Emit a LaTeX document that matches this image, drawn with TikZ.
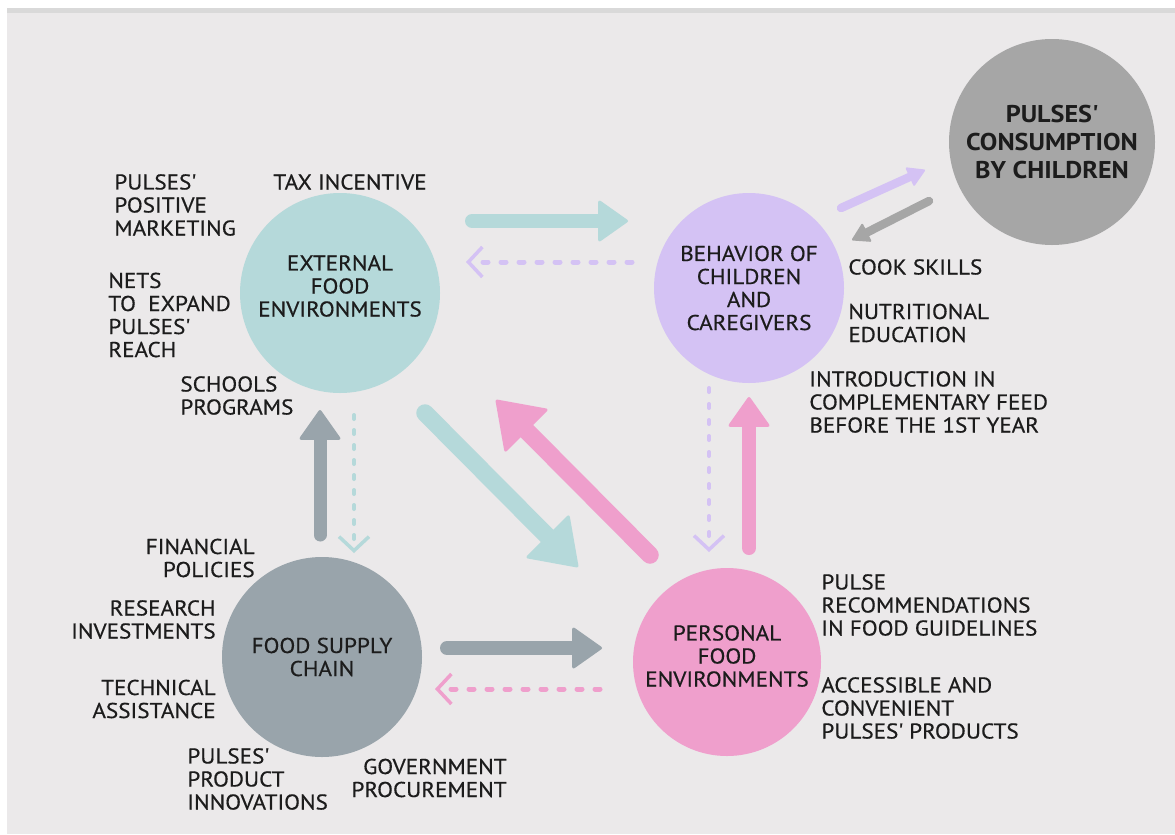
\documentclass[tikz,border=0pt]{standalone}
\usepackage{fontspec}
\setmainfont{PT Sans}[FakeStretch=1.08,UprightFeatures={FakeBold=0.5}]
\usepackage{xcolor}
\usepackage{tikz}
\usetikzlibrary{arrows.meta}
\definecolor{bg}{HTML}{EBE9EA}
\definecolor{band}{HTML}{D9D9D9}
\definecolor{cteal}{HTML}{B5D9DA}
\definecolor{clav}{HTML}{D4C2F4}
\definecolor{cpink}{HTML}{EF9FCC}
\definecolor{cslate}{HTML}{99A4AB}
\definecolor{cgrey}{HTML}{A6A6A6}
\definecolor{ink}{HTML}{1C1C1C}

\begin{document}
\begin{tikzpicture}
\tikzstyle{io}=[font=\fontsize{12.2}{13.1}\selectfont,text=ink,inner sep=0pt];
\tikzstyle{lio}=[io,anchor=west,align=left];
\tikzstyle{rio}=[io,anchor=east,align=right];
\tikzstyle{env}=[io,circle,align=center];
\tikzstyle{mid}=[io,align=center];
\tikzstyle{fat}=[line width=0.28cm,line cap=round,-{Triangle[width=0.86cm,length=0.62cm,round,line width=0.06cm]}];
\tikzstyle{fatter}=[line width=0.35cm,line cap=round,-{Triangle[width=1.24cm,length=0.9cm,round,line width=0.06cm]}];
\tikzstyle{slim}=[line width=0.17cm,line cap=round,-{Triangle[width=0.42cm,length=0.36cm,round,line width=0.04cm]}];
\tikzstyle{dots}=[line width=0.1cm,line cap=round,dash pattern=on 0.1cm off 0.26cm,-{Straight Barb[length=0.28cm,width=0.6cm,line width=0.07cm]}];

% background
\fill[white] (0,0) rectangle (23.5,-16.68);
\fill[band] (0.14,-0.16) rectangle (23.5,-0.26);
\fill[bg] (0.14,-0.26) rectangle (23.5,-16.68);

% circles
\node[env,fill=cteal,minimum size=4cm,label={[mid,yshift=0.14cm]center:{EXTERNAL\\FOOD\\ENVIRONMENTS}}] (ext) at (6.8,-5.86) {};
\node[env,fill=clav,minimum size=3.8cm] (beh) at (14.98,-5.76) {BEHAVIOR OF\\CHILDREN\\AND\\CAREGIVERS};
\node[env,fill=cgrey,minimum size=4.12cm,font=\fontsize{13.8}{16.1}\selectfont\bfseries] (cons) at (21.04,-2.84) {PULSES\textquotesingle\\CONSUMPTION\\BY CHILDREN};
\node[env,fill=cslate,minimum size=4cm] (sup) at (6.44,-13.14) {FOOD SUPPLY\\CHAIN};
\node[env,fill=cpink,minimum size=3.76cm,label={[mid,yshift=0.12cm]center:{PERSONAL\\FOOD\\ENVIRONMENTS}}] (per) at (14.54,-13.24) {};

% arrow ends
\coordinate (eb1) at (9.44,-4.42);
\coordinate (eb2) at (12.56,-4.42);
\coordinate (be1) at (12.64,-5.24);
\coordinate (be2) at (9.32,-5.24);
\coordinate (es1) at (7.08,-8.3);
\coordinate (es2) at (7.08,-11.06);
\coordinate (se1) at (6.4,-10.7);
\coordinate (se2) at (6.4,-8.2);
\coordinate (ep1) at (8.5,-8.26);
\coordinate (ep2) at (11.56,-11.34);
\coordinate (pe1) at (13.0,-11.1);
\coordinate (pe2) at (9.92,-8.0);
\coordinate (bp1) at (14.18,-7.76);
\coordinate (bp2) at (14.18,-11.04);
\coordinate (pb1) at (14.98,-10.96);
\coordinate (pb2) at (14.98,-7.94);
\coordinate (sp1) at (8.94,-12.96);
\coordinate (sp2) at (12.04,-12.96);
\coordinate (ps1) at (12.0,-13.78);
\coordinate (ps2) at (8.7,-13.78);
\coordinate (bc1) at (16.82,-4.16);
\coordinate (bc2) at (18.5,-3.4);
\coordinate (cb1) at (18.58,-4.02);
\coordinate (cb2) at (17.04,-4.8);

\draw[fat,cteal] (eb1) -- (eb2);
\draw[dots,clav] (be1) -- (be2);
\draw[dots,cteal,line width=0.08cm,dash pattern=on 0.08cm off 0.22cm] (es1) -- (es2);
\draw[fat,cslate,line width=0.26cm] (se1) -- (se2);
\draw[fatter,cteal] (ep1) -- (ep2);
\draw[fatter,cpink] (pe1) -- (pe2);
\draw[dots,clav,line width=0.08cm,dash pattern=on 0.08cm off 0.24cm] (bp1) -- (bp2);
\draw[fat,cpink] (pb1) -- (pb2);
\draw[fat,cslate] (sp1) -- (sp2);
\draw[dots,cpink] (ps1) -- (ps2);
\draw[slim,clav] (bc1) -- (bc2);
\draw[slim,cgrey] (cb1) -- (cb2);

% labels
\node[lio] (mkt) at (2.28,-4.1) {PULSES\textquotesingle\\POSITIVE\\MARKETING};
\node[lio] (tax) at (5.46,-3.64) {TAX INCENTIVE};
\node[lio] (nets) at (2.16,-6.3) {NETS\\TO\ \ EXPAND\\PULSES\textquotesingle\\REACH};
\node[lio] (sch) at (3.6,-7.91) {SCHOOLS\\PROGRAMS};
\node[lio] (cook) at (16.96,-5.34) {COOK SKILLS};
\node[lio] (nutr) at (16.96,-6.46) {NUTRITIONAL\\EDUCATION};
\node[lio] (intro) at (16.18,-8.04) {INTRODUCTION IN\\COMPLEMENTARY FEED\\BEFORE THE 1ST YEAR};
\node[rio] (fin) at (5.1,-11.16) {FINANCIAL\\POLICIES};
\node[rio] (res) at (4.32,-12.39) {RESEARCH\\INVESTMENTS};
\node[rio] (tech) at (4.32,-13.98) {TECHNICAL\\ASSISTANCE};
\node[lio] (innov) at (3.74,-15.58) {PULSES\textquotesingle\\PRODUCT\\INNOVATIONS};
\node[rio] (gov) at (10.14,-15.56) {GOVERNMENT\\PROCUREMENT};
\node[lio] (rec) at (16.42,-12.1) {PULSE\\RECOMMENDATIONS\\IN FOOD GUIDELINES};
\node[lio] (acc) at (16.42,-14.16) {ACCESSIBLE AND\\CONVENIENT\\PULSES\textquotesingle\ PRODUCTS};
\end{tikzpicture}
\end{document}
